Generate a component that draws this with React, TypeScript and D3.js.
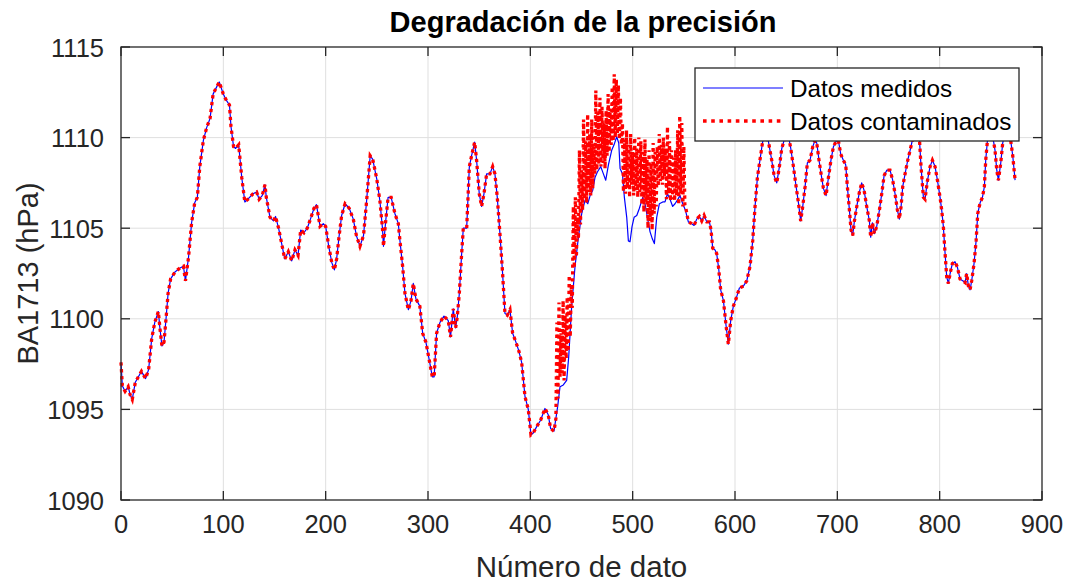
import React from "react";
import * as d3 from "d3";

// Datos medidos (número de dato, presión en hPa)
const datoIdx = [
  0, 1.3, 4, 7, 9, 11, 14, 17, 20, 24, 27, 30, 33, 36.5, 38, 40, 42, 44, 46, 48.5,
  53, 57.7, 61, 63, 66, 69, 72, 74.6, 77, 80.5, 83.7, 87, 90, 93.5, 96, 100, 103, 106, 107.5, 110,
  112, 115, 118, 121, 124, 129, 132.5, 135, 138, 140.7, 142, 145.6, 149, 151, 154, 157, 160, 163.5, 166.8, 170,
  173, 175.6, 178.8, 182, 185.7, 188.6, 191, 194.5, 197.7, 200, 203, 206, 208.5, 210.7, 213, 215.6, 219, 223, 227, 230,
  233.5, 237, 240, 243.5, 246, 250, 253, 255.5, 256.5, 258.5, 261, 264, 267.7, 271, 272.6, 275.2, 277.5, 280.8, 283.4, 285.6,
  288.2, 292, 294.8, 298, 301.3, 304.2, 306, 308.4, 311.7, 315.6, 319.8, 322, 324.7, 327, 328.6, 330.6, 332.9, 334.5, 337.8, 340.4,
  342.6, 345.6, 347.5, 350.1, 352.4, 354.7, 357.3, 360.5, 363.2, 365.4, 367.7, 370.3, 372.9, 375.2, 377.5, 380.1, 382.7, 386, 388.9, 391.5,
  394.8, 398, 400.6, 402.9, 406.2, 410, 414.3, 417.5, 419.8, 423.1, 426.7, 429, 432.2, 435.5, 437.5, 440.4, 443.7, 447, 450.2, 453.5,
  456.1, 458.4, 461, 463.2, 465.5, 468.8, 471.4, 473.7, 476.3, 479.5, 481.8, 484.4, 486.4, 487.7, 490, 491.9, 494.2, 495.8, 497.4, 499.4,
  501.4, 504, 506.6, 509.8, 512.1, 514.4, 517, 519.3, 521.2, 523.5, 526.1, 529.4, 531.6, 534, 536.5, 539.1, 541.4, 543.7, 546.3, 548.9,
  551.5, 554.4, 557.7, 560, 562.6, 565.2, 567.5, 569.8, 572.4, 575, 576.6, 578.2, 580.5, 582.1, 584, 586, 588.7, 591.3, 593.5, 595.8,
  598.4, 601, 604.3, 608.2, 611.5, 614.7, 617.3, 619.6, 621.9, 624.5, 626.8, 629.4, 632.6, 635.9, 638.2, 640.8, 643.4, 645.7, 648, 652.2,
  654.5, 657.1, 659.7, 662, 664.2, 666.2, 668.5, 670.7, 673.3, 676, 678.2, 679.9, 682.1, 684.1, 686.4, 689, 691.3, 693.9, 696.2, 698.8,
  701, 703.3, 705.9, 708.2, 709.8, 711.8, 713.4, 715, 716.7, 719, 721.6, 723.8, 726.1, 728.7, 731.3, 732.6, 734.3, 736.2, 738.5, 741.1,
  743.4, 745.7, 748.3, 751.5, 754.1, 756.4, 758.7, 760.6, 762.3, 763.9, 766.2, 768.8, 771.1, 773.7, 777, 780.2, 781.8, 784.1, 785.7, 788,
  790.6, 792.9, 795.5, 797.8, 800.4, 802, 803.6, 805.3, 806.9, 808.5, 810.2, 812.4, 815, 817.3, 819.9, 822.5, 824.8, 826.4, 828.1, 829.7,
  831.3, 833.6, 835.6, 837.2, 839.5, 841.8, 843.7, 845, 846.7, 849.3, 851.9, 854.1, 855.8, 857.4, 859.7, 861.6, 863.9, 867.2, 869.4, 871.4,
  873.7,
];

const datosMedidos = [
  1097.6, 1096.3, 1096.0, 1096.25, 1095.8, 1095.55, 1096.5, 1096.8, 1097.1, 1096.7, 1097.2, 1098.9, 1099.8, 1100.4, 1099.5, 1098.5, 1098.7, 1100.0, 1101.4, 1102.2,
  1102.6, 1102.8, 1102.9, 1102.1, 1103.4, 1105.3, 1106.4, 1106.7, 1108.4, 1109.85, 1110.55, 1111.05, 1112.4, 1112.8, 1113.07, 1112.4, 1112.05, 1111.8, 1110.6, 1109.5,
  1109.4, 1109.6, 1107.8, 1106.45, 1106.6, 1106.9, 1107.0, 1106.6, 1106.8, 1107.4, 1106.7, 1105.6, 1105.4, 1105.65, 1105.0, 1104.15, 1103.3, 1103.7, 1103.2, 1103.8,
  1103.5, 1104.9, 1104.75, 1105.0, 1105.6, 1106.1, 1106.3, 1105.1, 1105.25, 1105.1, 1104.0, 1103.1, 1102.7, 1103.3, 1104.5, 1105.7, 1106.35, 1106.1, 1105.5, 1104.6,
  1104.0, 1104.6, 1106.5, 1109.0, 1108.8, 1107.7, 1106.5, 1105.0, 1104.0, 1105.3, 1106.7, 1106.7, 1105.8, 1105.25, 1104.3, 1102.9, 1101.4, 1100.5, 1101.0, 1101.95,
  1101.1, 1100.7, 1099.2, 1098.7, 1097.7, 1096.8, 1096.8, 1099.2, 1099.8, 1100.15, 1099.9, 1099.0, 1100.55, 1099.5, 1100.1, 1101.4, 1103.6, 1105.0, 1105.0, 1108.4,
  1109.0, 1109.75, 1108.75, 1106.9, 1106.2, 1106.9, 1108.0, 1108.0, 1108.4, 1108.0, 1106.7, 1104.7, 1102.5, 1100.3, 1100.2, 1100.5, 1099.2, 1098.7, 1098.2, 1097.6,
  1095.7, 1095.0, 1093.6, 1093.7, 1094.05, 1094.4, 1095.05, 1094.7, 1093.95, 1093.8, 1095.15, 1096.25, 1096.35, 1096.6, 1097.9, 1100.7, 1102.9, 1104.5, 1105.8, 1106.55,
  1106.35, 1106.8, 1107.1, 1107.8, 1108.1, 1108.4, 1108.0, 1107.65, 1108.5, 1109.3, 1109.6, 1110.05, 1109.7, 1108.3, 1108.0, 1106.7, 1105.6, 1104.3, 1104.25, 1105.1,
  1105.6, 1105.7, 1106.1, 1106.7, 1106.35, 1105.6, 1104.8, 1104.4, 1104.15, 1105.6, 1106.35, 1106.45, 1106.45, 1106.9, 1106.6, 1106.2, 1106.35, 1106.55, 1106.8, 1106.35,
  1106.0, 1105.35, 1105.25, 1105.15, 1105.5, 1105.65, 1105.4, 1105.7, 1105.35, 1105.35, 1104.9, 1103.9, 1103.8, 1103.6, 1102.8, 1101.6, 1101.0, 1099.6, 1098.6, 1099.9,
  1100.7, 1101.1, 1101.7, 1101.8, 1102.1, 1102.9, 1104.3, 1106.2, 1107.8, 1108.8, 1109.7, 1110.3, 1109.8, 1108.75, 1107.9, 1107.5, 1108.4, 1109.4, 1109.85, 1110.1,
  1109.4, 1108.4, 1107.3, 1106.4, 1105.4, 1106.2, 1107.3, 1108.6, 1108.75, 1109.5, 1109.85, 1109.7, 1108.75, 1108.0, 1107.2, 1106.8, 1107.8, 1108.8, 1109.5, 1109.8,
  1109.85, 1109.1, 1108.75, 1108.5, 1107.3, 1106.0, 1104.9, 1104.6, 1105.4, 1106.2, 1107.0, 1107.5, 1107.1, 1106.2, 1105.4, 1104.5, 1105.3, 1104.7, 1105.1, 1106.0,
  1106.9, 1107.9, 1108.2, 1108.2, 1107.65, 1106.9, 1106.0, 1105.5, 1106.2, 1107.3, 1108.0, 1108.75, 1109.3, 1109.95, 1110.3, 1109.95, 1108.4, 1106.7, 1106.6, 1107.6,
  1108.4, 1108.75, 1108.4, 1107.65, 1106.7, 1106.0, 1105.1, 1103.6, 1102.3, 1101.95, 1102.5, 1103.05, 1103.15, 1102.85, 1102.2, 1102.1, 1102.0, 1102.5, 1101.8, 1101.6,
  1102.1, 1103.05, 1104.3, 1105.8, 1106.4, 1106.7, 1107.3, 1108.75, 1109.85, 1110.3, 1110.05, 1109.3, 1108.2, 1107.65, 1108.6, 1109.7, 1110.3, 1110.3, 1109.85, 1109.0,
  1107.65,
];

// Tramo contaminado: un valor por dato, desde el dato 425 hasta el 552
const inicioContaminado = 425;
const tramoContaminado = [
  1094.5, 1099.8, 1095.6, 1100.9, 1096.8, 1099.2, 1097.0, 1101.0, 1096.6, 1100.2,
  1097.8, 1101.2, 1098.2, 1102.4, 1099.0, 1101.8, 1100.6, 1106.2, 1102.8, 1106.7,
  1103.4, 1105.6, 1104.4, 1109.3, 1105.2, 1108.2, 1106.0, 1111.0, 1106.6, 1109.8,
  1106.4, 1111.3, 1107.0, 1110.2, 1106.8, 1111.0, 1107.2, 1109.6, 1108.0, 1112.6,
  1108.2, 1111.4, 1108.5, 1112.2, 1108.4, 1111.7, 1108.6, 1110.8, 1108.3, 1111.5,
  1109.0, 1112.4, 1109.2, 1111.6, 1109.6, 1112.8, 1109.8, 1113.5, 1110.0, 1113.2,
  1110.2, 1112.9, 1109.9, 1112.2, 1109.6, 1110.8, 1107.0, 1109.9, 1106.9, 1110.4,
  1107.2, 1109.6, 1106.7, 1110.2, 1107.4, 1109.2, 1106.8, 1110.0, 1107.1, 1109.4,
  1106.7, 1110.0, 1107.0, 1109.8, 1106.3, 1109.2, 1105.9, 1109.9, 1106.4, 1108.8,
  1105.0, 1109.3, 1105.4, 1108.6, 1104.9, 1109.7, 1105.8, 1109.2, 1106.2, 1109.5,
  1107.3, 1110.2, 1107.6, 1109.6, 1107.4, 1110.0, 1107.8, 1109.4, 1106.6, 1110.6,
  1106.9, 1109.8, 1106.5, 1109.3, 1106.6, 1108.9, 1106.5, 1109.3, 1106.8, 1110.4,
  1106.3, 1111.2, 1106.9, 1110.8, 1106.2, 1109.5, 1106.3, 1106.1,
];

const xTicks = [0, 100, 200, 300, 400, 500, 600, 700, 800, 900];
const yTicks = [1090, 1095, 1100, 1105, 1110, 1115];
const seriesNames = ["Datos medidos", "Datos contaminados"];

const FONT = "'Liberation Sans', Arial, Helvetica, sans-serif";
const AXIS = "#262626";

export default function App() {
  const ref = React.useRef<SVGSVGElement>(null);

  React.useEffect(() => {
    const svg = d3.select(ref.current);
    svg.selectAll("*").remove();

    const left = 121, right = 1042, top = 47, bottom = 500;
    const x = d3.scaleLinear().domain([0, 900]).range([left, right]);
    const y = d3.scaleLinear().domain([1090, 1115]).range([bottom, top]);

    const medidos: [number, number][] = datoIdx.map((d, i) => [d, datosMedidos[i]]);
    const finContaminado = inicioContaminado + tramoContaminado.length - 1;
    const contaminados: [number, number][] = [
      ...medidos.filter((p) => p[0] < inicioContaminado),
      ...tramoContaminado.map((v, i) => [inicioContaminado + i, v] as [number, number]),
      ...medidos.filter((p) => p[0] > finContaminado),
    ];

    // grid
    const grid = svg.append("g").attr("stroke", "#dfdfdf").attr("stroke-width", 1);
    xTicks.slice(1, -1).forEach((t) => {
      grid.append("line").attr("x1", x(t)).attr("x2", x(t)).attr("y1", top).attr("y2", bottom);
    });
    yTicks.slice(1, -1).forEach((t) => {
      grid.append("line").attr("x1", left).attr("x2", right).attr("y1", y(t)).attr("y2", y(t));
    });

    const line = d3.line<[number, number]>().x((d) => x(d[0])).y((d) => y(d[1]));

    svg.append("path")
      .attr("d", line(medidos))
      .attr("fill", "none")
      .attr("stroke", "#0000ff")
      .attr("stroke-width", 1.2)
      .attr("stroke-linejoin", "round");

    svg.append("path")
      .attr("d", line(contaminados))
      .attr("fill", "none")
      .attr("stroke", "#ff0000")
      .attr("stroke-width", 3.3)
      .attr("stroke-dasharray", "3.3 3.6");

    // axes box and ticks (inward, on all sides)
    const ax = svg.append("g").attr("stroke", AXIS).attr("stroke-width", 1.3).attr("fill", "none");
    ax.append("rect").attr("x", left).attr("y", top).attr("width", right - left).attr("height", bottom - top);
    const tl = 9;
    xTicks.forEach((t) => {
      ax.append("line").attr("x1", x(t)).attr("x2", x(t)).attr("y1", bottom).attr("y2", bottom - tl);
      ax.append("line").attr("x1", x(t)).attr("x2", x(t)).attr("y1", top).attr("y2", top + tl);
    });
    yTicks.forEach((t) => {
      ax.append("line").attr("x1", left).attr("x2", left + tl).attr("y1", y(t)).attr("y2", y(t));
      ax.append("line").attr("x1", right).attr("x2", right - tl).attr("y1", y(t)).attr("y2", y(t));
    });

    const labels = svg.append("g").attr("font-family", FONT).attr("fill", AXIS);
    xTicks.forEach((t) => {
      labels.append("text").attr("x", x(t)).attr("y", 533).attr("text-anchor", "middle")
        .attr("font-size", 25.5).text(t);
    });
    yTicks.forEach((t) => {
      labels.append("text").attr("x", 104).attr("y", y(t) + 9.5).attr("text-anchor", "end")
        .attr("font-size", 25.5).text(t);
    });

    labels.append("text").attr("x", (left + right) / 2).attr("y", 577).attr("text-anchor", "middle")
      .attr("font-size", 29.5).text("Número de dato");
    labels.append("text").attr("transform", `translate(38,${(top + bottom) / 2}) rotate(-90)`)
      .attr("text-anchor", "middle").attr("font-size", 29).text("BA1713 (hPa)");

    svg.append("text").attr("x", 583).attr("y", 32).attr("text-anchor", "middle")
      .attr("font-family", FONT).attr("font-weight", "bold").attr("font-size", 29)
      .attr("fill", "#000").text("Degradación de la precisión");

    // legend
    const lg = svg.append("g").attr("font-family", FONT);
    lg.append("rect").attr("x", 695).attr("y", 68).attr("width", 324).attr("height", 73)
      .attr("fill", "#fff").attr("stroke", AXIS).attr("stroke-width", 1.3);
    lg.append("line").attr("x1", 703).attr("x2", 783).attr("y1", 88).attr("y2", 88)
      .attr("stroke", "#0000ff").attr("stroke-width", 1.2);
    lg.append("line").attr("x1", 703).attr("x2", 783).attr("y1", 121).attr("y2", 121)
      .attr("stroke", "#ff0000").attr("stroke-width", 3.6).attr("stroke-dasharray", "3.6 4.6");
    lg.append("text").attr("x", 790).attr("y", 97).attr("font-size", 24.3).attr("fill", "#000").text(seriesNames[0]);
    lg.append("text").attr("x", 790).attr("y", 130).attr("font-size", 24.3).attr("fill", "#000").text(seriesNames[1]);
  }, []);

  return (
    <svg
      ref={ref}
      width={1070}
      height={586}
      style={{ position: "absolute", left: 0, top: 0, background: "#fff" }}
    />
  );
}
